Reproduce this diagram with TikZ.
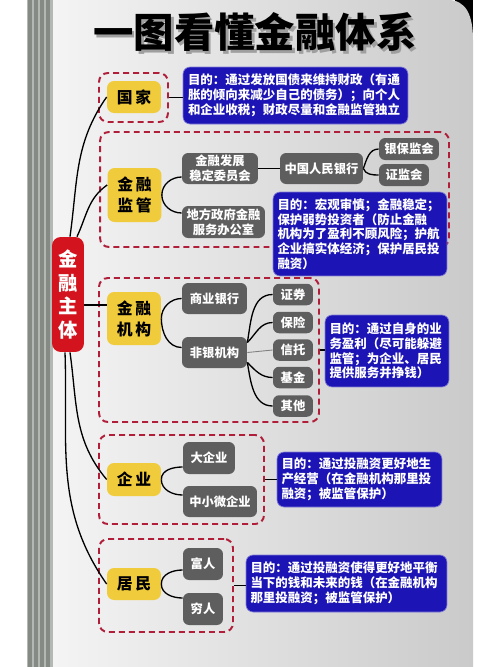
\documentclass[tikz,border=0pt]{standalone}
\usepackage{fontspec}
\newfontfamily\cjk{Noto Sans CJK SC}
\usetikzlibrary{positioning, calc}
\definecolor{tagYellow}{HTML}{F0CB3C}
\definecolor{inkGray}{HTML}{5E5E5E}
\definecolor{aimBlue}{HTML}{1C14B4}
\definecolor{hubRed}{HTML}{D3141E}
\definecolor{dashRed}{HTML}{B01E3A}
\definecolor{pageLight}{HTML}{F4F4F4}
\definecolor{pageDark}{HTML}{CACACA}
\definecolor{spineGray}{HTML}{858A85}
\definecolor{spineLight}{HTML}{B4B8B4}
\tikzset{
  hubbox/.style={fill=hubRed, rounded corners=5pt, text=white, align=center,
                 font=\cjk\bfseries\fontsize{11}{13.6}\selectfont,
                 minimum width=0.64cm, minimum height=2.3cm, inner sep=0pt},
  tagbox/.style={fill=tagYellow, rounded corners=4pt, align=center,
                 font=\cjk\bfseries\fontsize{9}{12}\selectfont,
                 minimum width=1.08cm, inner sep=0pt},
  grpbox/.style={draw=dashRed, line width=1.1pt, dash pattern=on 3.4pt off 2.3pt,
                 rounded corners=5pt, inner sep=0pt},
  graybox/.style={fill=inkGray, rounded corners=3.5pt, text=white, align=center,
                  font=\cjk\bfseries\fontsize{7}{8.5}\selectfont,
                  minimum height=0.62cm, inner sep=0pt},
  aimbox/.style={fill=aimBlue, draw=aimBlue!55!white, line width=0.4pt, rounded corners=4pt,
                 text=white, align=left, font=\cjk\bfseries\fontsize{7.1}{8.4}\selectfont,
                 inner sep=0pt},
  link/.style={line width=0.75pt, black},
}
\begin{document}
\begin{tikzpicture}[x=0.02cm, y=-0.02cm]
\useasboundingbox (0,0) rectangle (500,667);
% page and spine
\fill[white] (0,0) rectangle (500,667);
\fill[black] (455,0) rectangle (473,40);
\shade[left color=pageLight, right color=pageDark]
  (53,0) -- (448,0) .. controls (466,0) and (473,15) .. (473,40) -- (473,667) -- (53,667) -- cycle;
\fill[spineLight] (27,0) rectangle (53,667);
\foreach \x in {28,34,40,46} {
  \fill[spineGray] (\x,0) rectangle ++(4,667);
}

% title
\node[text=gray!75, font=\cjk\bfseries\fontsize{23}{28}\selectfont] (titleshadow) at (257.5,34.5) {一图看懂金融体系};
\node[font=\cjk\bfseries\fontsize{23}{28}\selectfont] (title) at (255,32) {一图看懂金融体系};

% hub
\node[hubbox] (hub) at (68,294.5) {金\\融\\主\\体};

% 国家
\node[grpbox, minimum width=1.38cm, minimum height=0.98cm] (grpGJ) at (133.5,97.5) {};
\node[tagbox, minimum height=0.64cm] (tagGJ) at (134,97) {国\,家};
\node[aimbox, minimum width=4.5cm, minimum height=1.14cm, text width=4.3cm] (aimGJ) at (295.5,95.5)
  {目的：通过发放国债来维持财政（有通\\胀的倾向来减少自己的债务）；向个人\\和企业收税；财政尽量和金融监管独立};

% 金融监管
\node[grpbox, minimum width=6.98cm, minimum height=2.3cm] (grpJG) at (274.5,189.5) {};
\node[tagbox, minimum height=1.08cm] (tagJG) at (134.5,195) {金\,融\\监\,管};
\node[graybox, minimum width=1.52cm] (wyh) at (220,168.5) {金融发展\\稳定委员会};
\node[graybox, minimum width=1.66cm, minimum height=0.64cm] (dfb) at (223.5,222) {地方政府金融\\服务办公室};
\node[graybox, minimum width=1.66cm] (rmyh) at (321.5,168.5) {中国人民银行};
\node[graybox, minimum width=1.2cm, minimum height=0.44cm] (ybj) at (409,149) {银保监会};
\node[graybox, minimum width=1.0cm, minimum height=0.44cm] (zjh) at (404,175) {证监会};
\node[aimbox, minimum width=3.48cm, minimum height=1.68cm, text width=3.3cm] (aimJG) at (360,234)
  {目的：宏观审慎；金融稳定；\\保护弱势投资者（防止金融\\机构为了盈利不顾风险；护航\\企业搞实体经济；保护居民投\\融资）};

% 金融机构
\node[grpbox, minimum width=4.4cm, minimum height=2.88cm] (grpJJ) at (209,350) {};
\node[tagbox, minimum height=1.06cm] (tagJJ) at (134,318.5) {金\,融\\机\,构};
\node[graybox, minimum width=1.3cm] (syyh) at (214.5,298.5) {商业银行};
\node[graybox, minimum width=1.3cm] (fyjg) at (214.5,352.5) {非银机构};
\foreach \k/\y/\t in {zq/294.5/证券, bx/322.5/保险, xt/350/信托, jj/377.5/基金, qt/406/其他} {
  \node[graybox, minimum width=0.8cm, minimum height=0.43cm] (\k) at (293,\y) {\t};
}
\node[aimbox, minimum width=2.48cm, minimum height=1.44cm, text width=2.3cm] (aimJJ) at (387,351)
  {目的：通过自身的业\\务盈利（尽可能躲避\\监管；为企业、居民\\提供服务并挣钱）};

% 企业
\node[grpbox, minimum width=3.3cm, minimum height=1.78cm] (grpQY) at (181.5,479.5) {};
\node[tagbox, minimum height=0.66cm] (tagQY) at (134,479.5) {企\,业};
\node[graybox, minimum width=1.04cm, minimum height=0.64cm] (dqy) at (209,458) {大企业};
\node[graybox, minimum width=1.48cm] (zxw) at (220,501.5) {中小微企业};
\node[aimbox, minimum width=3.3cm, minimum height=1.1cm, text width=3.12cm] (aimQY) at (359.5,479.5)
  {目的：通过投融资更好地生\\产经营（在金融机构那里投\\融资；被监管保护）};

% 居民
\node[grpbox, minimum width=2.68cm, minimum height=1.86cm] (grpJM) at (166,585.5) {};
\node[tagbox, minimum height=0.64cm] (tagJM) at (134,584) {居\,民};
\node[graybox, minimum width=0.8cm, minimum height=0.64cm] (fr) at (203,564) {富人};
\node[graybox, minimum width=0.8cm, minimum height=0.64cm] (qr) at (203,609) {穷人};
\node[aimbox, minimum width=4.02cm, minimum height=1.14cm, text width=3.84cm] (aimJM) at (346.5,583.5)
  {目的：通过投融资使得更好地平衡\\当下的钱和未来的钱（在金融机构\\那里投融资；被监管保护）};

% hub branches
\draw[link] ([xshift=0.04cm]hub.north) to[out=82, in=235] (tagGJ.west);
\draw[link] ([xshift=0.18cm]hub.north) to[out=65, in=215] ([yshift=0.2cm]tagJG.west);
\draw[link] ([yshift=-0.21cm]hub.east) -- ([yshift=-0.21cm]hub.east -| tagJJ.west);
\draw[link] ([xshift=0.04cm]hub.south) to[out=-82, in=130] (tagQY.west);
\draw[link] ([xshift=-0.06cm]hub.south) to[out=-88, in=125] (tagJM.west);

% brackets
\draw[link] (tagJG.east) to[out=90, in=180] ([yshift=-0.17cm]wyh.west);
\draw[link] (tagJG.east) to[out=-90, in=180] ([yshift=0.18cm]dfb.west);
\draw[link] (wyh.east) -- (rmyh.west);
\draw[link] (rmyh.east) to[out=70, in=180] (ybj.west);
\draw[link] (rmyh.east) to[out=-70, in=180] (zjh.west);
\draw[link] (tagJJ.east) to[out=90, in=180] (syyh.west);
\draw[link] (tagJJ.east) to[out=-90, in=180] ([yshift=0.1cm]fyjg.west);
\foreach \k/\o in {zq/80, bx/45} {
  \draw[link] ([yshift=0.2cm]fyjg.east) to[out=\o, in=180] (\k.west);
}
\foreach \k/\o in {jj/-45, qt/-80} {
  \draw[link] ([yshift=-0.2cm]fyjg.east) to[out=\o, in=180] (\k.west);
}
\draw[gray, line width=0.5pt] (fyjg.east) -- (xt.west);
\draw[link] (tagQY.east) to[out=90, in=180] ([yshift=-0.18cm]dqy.west);
\draw[link] (tagQY.east) to[out=-90, in=180] ([yshift=0.13cm]zxw.west);
\draw[link] (tagJM.east) to[out=90, in=180] ([yshift=-0.12cm]fr.west);
\draw[link] (tagJM.east) to[out=-90, in=180] ([yshift=0.22cm]qr.west);

% aims
\draw[link] (grpGJ.east) -- (grpGJ.east -| aimGJ.west);
\draw[link] (grpJJ.east) -- (grpJJ.east -| aimJJ.west);
\draw[link] (grpQY.east) -- (grpQY.east -| aimQY.west);
\draw[link] (grpJM.east) -- (grpJM.east -| aimJM.west);
\end{tikzpicture}
\end{document}
